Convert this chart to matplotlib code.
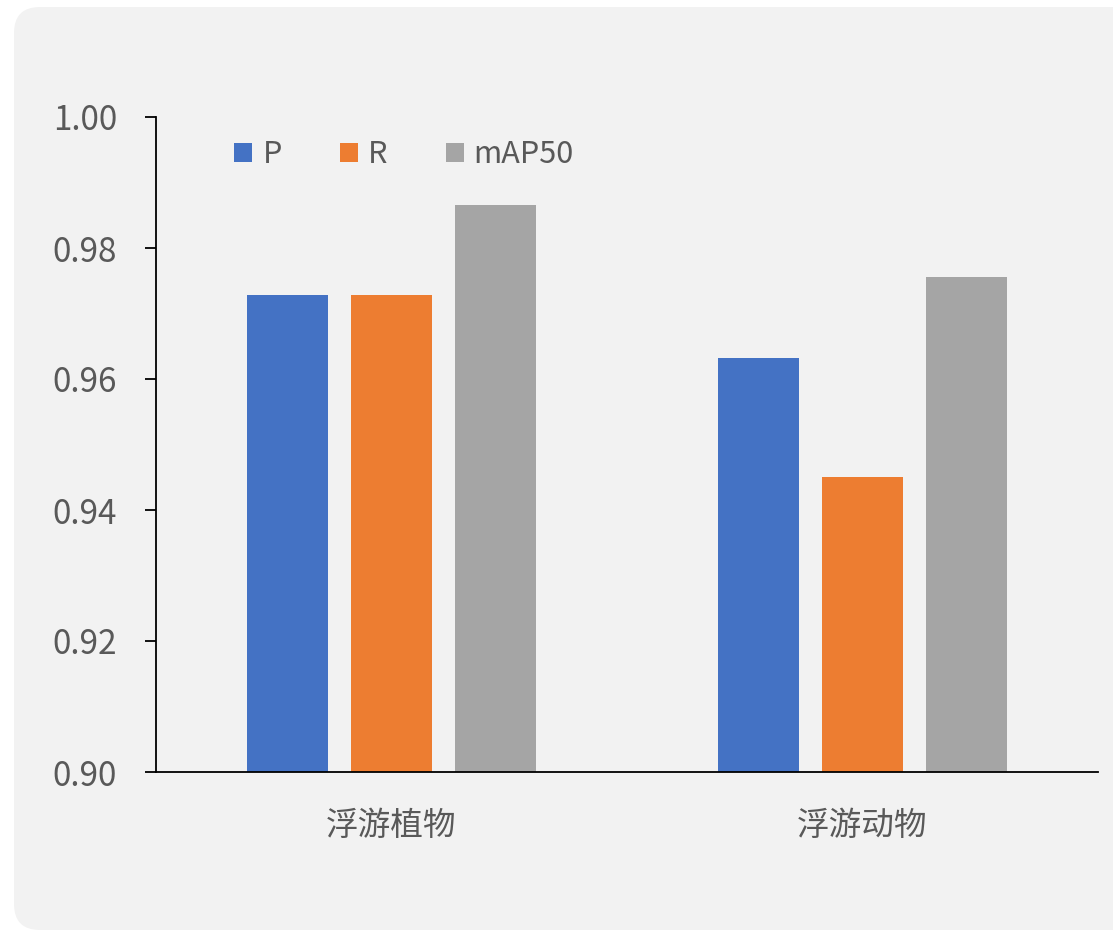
import matplotlib
matplotlib.use("Agg")
import matplotlib.pyplot as plt
import numpy as np
from matplotlib.patches import FancyBboxPatch
from matplotlib.transforms import IdentityTransform

plt.rcParams['font.family'] = ['Noto Sans CJK SC', 'DejaVu Sans']

categories = ["浮游植物", "浮游动物"]
series_names = ["P", "R", "mAP50"]
P_vals = [0.9728, 0.9632]
R_vals = [0.9728, 0.9450]
mAP_vals = [0.9866, 0.9756]
yticks = [0.90, 0.92, 0.94, 0.96, 0.98, 1.00]
colors = ["#4472C4", "#ED7D31", "#A5A5A5"]

W, H = 1113, 933
fig = plt.figure(figsize=(W / 100, H / 100), dpi=100)
fig.patch.set_facecolor("white")

panel = FancyBboxPatch((14, 3), 1140 - 14, 926 - 3,
                       boxstyle="round,pad=0,rounding_size=26",
                       transform=IdentityTransform(), facecolor="#F2F2F2",
                       edgecolor="none", zorder=-5)
fig.patches.append(panel)

ax = fig.add_axes([156 / W, 1 - 772 / H, (1098 - 156) / W, (772 - 117) / H])
ax.set_facecolor("none")
ax.set_zorder(2)

x = np.arange(len(categories))
bw = 0.174
step = 0.2208
for i, (vals, name) in enumerate(zip([P_vals, R_vals, mAP_vals], series_names)):
    ax.bar(x + (i - 1) * step, vals, width=bw, color=colors[i], label=name, zorder=2)

ax.set_xlim(-0.5, 1.5)
ax.set_ylim(0.90, 1.00)
ax.set_yticks(yticks)
ax.set_yticklabels([f"{v:.2f}" for v in yticks])
ax.set_xticks(x)
ax.set_xticklabels(categories)

for s in ["top", "right"]:
    ax.spines[s].set_visible(False)
ax.spines["left"].set_linewidth(1.3)
ax.spines["bottom"].set_linewidth(1.3)
ax.tick_params(axis="y", direction="out", length=8, width=1.3, labelsize=24,
               labelcolor="#595959", pad=20)
ax.tick_params(axis="x", length=0, labelsize=23.5, labelcolor="#595959", pad=27)

leg = ax.legend(ncol=3, frameon=False, loc="upper left",
                bbox_to_anchor=(0.054, 1.008), fontsize=22,
                handlelength=0.59, handleheight=0.59, handletextpad=0.33,
                columnspacing=1.9, labelcolor="#595959")

fig.savefig("out.png", dpi=100, facecolor=fig.get_facecolor())
